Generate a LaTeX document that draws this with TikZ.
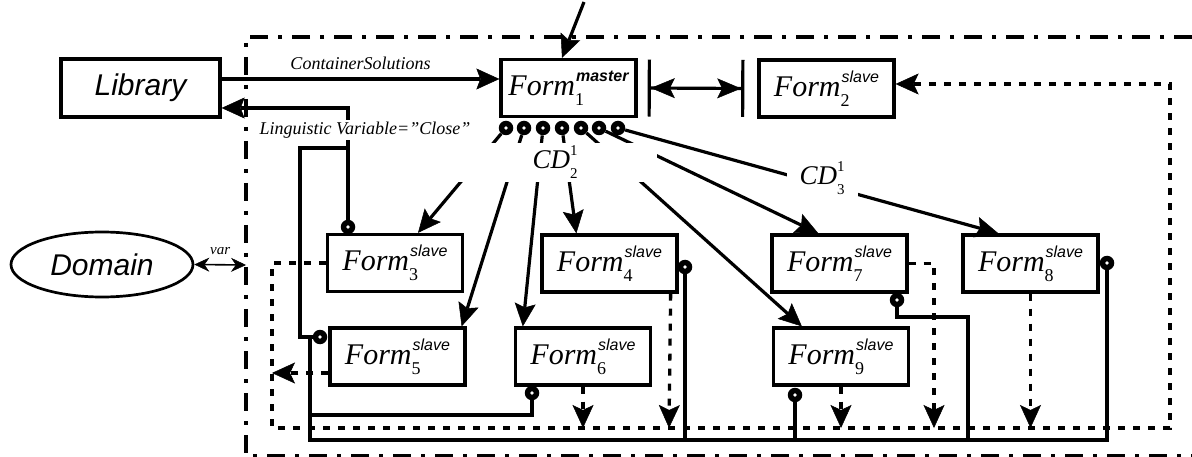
\documentclass[tikz,border=0pt]{standalone}
\usepackage{fontspec}
\setmainfont{Liberation Serif}
\setsansfont{Liberation Sans}
\usetikzlibrary{arrows.meta,positioning,shapes.geometric}

% form name with index below and role above
\newcommand{\frm}[2]{\textit{Form}\makebox[0pt][l]{\raisebox{-10pt}{\fontsize{18}{18}\selectfont #1}}\kern1pt\raisebox{14pt}{\fontsize{16}{16}\selectfont\sffamily\itshape #2}}
% connection descriptor
\newcommand{\cdl}[2]{\textit{CD}\makebox[0pt][l]{\raisebox{-10pt}{\fontsize{15}{15}\selectfont #1}}\raisebox{13pt}{\fontsize{15}{15}\selectfont #2}}

\begin{document}
\begin{tikzpicture}[x=1pt, y=-1pt,
  formbox/.style={draw, line width=3.3pt, minimum width=135pt, minimum height=57pt,
                  inner sep=0pt, font=\fontsize{30}{30}\selectfont},
  sansbox/.style={draw, line width=3.3pt, inner sep=0pt,
                  font=\fontsize{30}{30}\selectfont\sffamily\itshape},
  dotpin/.style={circle, fill=black, minimum size=14.5pt, inner sep=0pt,
                 path picture={\fill[white] (path picture bounding box.center) circle (1.8pt);}},
  wire/.style={line width=3.2pt},
  arr/.style={wire, -{Stealth[length=23pt, width=21pt, inset=4pt, line width=0.5pt]}},
  dsh/.style={line width=3.3pt, dash pattern=on 7pt off 8pt,
              -{Stealth[length=23pt, width=21pt, inset=5pt, line width=0.5pt]}},
  outerline/.style={line width=3.6pt, dash pattern=on 18pt off 10pt on 4pt off 10pt},
  lbl/.style={font=\fontsize{18}{18}\selectfont\itshape, inner sep=2pt},
  cdlbl/.style={fill=white, inner sep=0pt, font=\fontsize{27}{27}\selectfont},
]
\useasboundingbox (0,0) rectangle (1192,457);

% Outer boundary
\draw[outerline] (1192,37) -- (246,37) -- (246,456) -- (1192,456);

% Outside objects
\node[sansbox, minimum width=159pt, minimum height=58pt] (lib) at (140.5,88) {Library};
\node[sansbox, ellipse, line width=2.7pt, minimum width=182pt, minimum height=65pt] (dom) at (102,264.5) {Domain};

% Forms
\node[formbox] (f1) at (568.5,88)   {\frm{1}{\bfseries master}};
\node[formbox] (f2) at (826.5,88.5) {\frm{2}{slave}};
\node[formbox] (f3) at (395,263)    {\frm{3}{slave}};
\node[formbox] (f4) at (609.5,263.5) {\frm{4}{slave}};
\node[formbox] (f7) at (839.5,263.5) {\frm{7}{slave}};
\node[formbox] (f8) at (1030.5,263.5) {\frm{8}{slave}};
\node[formbox] (f5) at (397.5,356.5) {\frm{5}{slave}};
\node[formbox] (f6) at (583,356.5)  {\frm{6}{slave}};
\node[formbox] (f9) at (841,356.5)  {\frm{9}{slave}};

% Connection points under the master form
\foreach \i/\x in {1/506,2/524,3/543,4/562,5/581,6/599,7/618}
  \node[dotpin] (c\i) at (\x,128) {};

% Connection points of the slave forms
\node[dotpin] (p3) at (348,227) {};
\node[dotpin] (p5) at (320,337) {};
\node[dotpin] (p6) at (532,393) {};
\node[dotpin] (p4) at (685,267) {};
\node[dotpin] (p9) at (795,395) {};
\node[dotpin] (p7) at (897,300) {};
\node[dotpin] (p8) at (1107,263) {};

\coordinate (top) at (584,2);
\coordinate (fr) at (246,265);
\coordinate (lj) at (348,148);
\coordinate (bj) at (310,337);
\coordinate (sj) at (310,415);
\coordinate (bus) at (310,440);

% Inputs of the master form
\draw[arr] (top) -- ([xshift=-6.5pt]f1.north);
\draw[arr] ([yshift=9pt]lib.east) -- ([yshift=9pt]f1.west)
  node[lbl, midway, above=6pt] {ContainerSolutions};
\draw[line width=1.6pt, {Stealth[length=15pt, width=14pt, line width=0.5pt]}-{Stealth[length=15pt, width=14pt, line width=0.5pt]}]
  (dom.east) -- (fr) node[midway, above=9pt, inner sep=0pt, font=\fontsize{15}{15}\selectfont\itshape] {var};
\draw[line width=3.2pt,
  {Bar[width=57pt]Stealth[length=24pt, width=20pt, inset=5pt, line width=0.5pt]}-{Stealth[length=24pt, width=20pt, inset=5pt, line width=0.5pt]Bar[width=57pt]}]
  ([xshift=10pt]f1.east) -- ([xshift=-13pt]f2.west);

% Master to slaves
\draw[arr] (c1) -- ([xshift=23pt]f3.north);
\draw[arr] (c2) -- ([xshift=-5pt]f5.north east);
\draw[arr] (c3) -- ([xshift=9pt]f6.north west);
\draw[arr] (c4) -- ([xshift=36pt]f4.north west);
\draw[arr] (c5) -- ([xshift=30pt]f9.north west);
\draw[arr] (c6) -- ([xshift=48pt]f7.north west);
\draw[arr] (c7) -- ([xshift=37pt]f8.north west);

% Linguistic variable back to the library
\draw[arr] (p3) |- ([yshift=-20pt]lib.east);
\draw[wire] (lj) -| (300,337) -- (p5);

% Bottom bus
\draw[wire] (bj) -- (bus) -| (p8);
\draw[wire] (sj) -| (p6);
\draw[wire] (p4) -- (p4 |- bus);
\draw[wire] (p9) -- (p9 |- bus);
\draw[wire] (p7) |- (968,317) -- (968,440);

% Dashed return paths
\draw[dsh] (f3.west) -- (272,263) -- (272,428) -- (1170,428) -- (1170,84) -- ([yshift=4.5pt]f2.east);
\draw[dsh] ([yshift=-16.5pt]f5.west) -- (272,373);
\draw[dsh] (f6.south) -- (583,428);
\draw[dsh] ([xshift=-8pt]f4.south east) -- (669,428);
\draw[dsh] (f9.south) -- (841,428);
\draw[dsh] (f7.east) -- (934,263.5) -- (934,428);
\draw[dsh] (f8.south) -- (1030.5,428);

% Labels
\node[lbl, fill=white] (lv) at (365,130) {Linguistic Variable="Close"};
\node[cdlbl, minimum width=204pt, minimum height=39pt] (cd2) at (555,162.5) {\cdl{2}{1}};
\node[cdlbl, minimum width=71pt, minimum height=37pt] (cd3) at (822,178.5) {\cdl{3}{1}};

\end{tikzpicture}
\end{document}
